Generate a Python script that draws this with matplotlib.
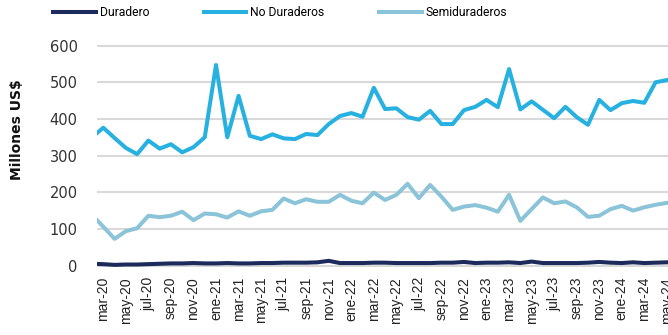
import matplotlib
matplotlib.use("Agg")
import matplotlib.pyplot as plt
import numpy as np

# Meses (feb-20 a may-24), series en millones de US$
meses_abrev = ["ene", "feb", "mar", "abr", "may", "jun", "jul", "ago", "sep", "oct", "nov", "dic"]
meses = [f"{m}-{a % 100:02d}" for a in range(2020, 2025) for m in meses_abrev]
meses = meses[meses.index("feb-20"):meses.index("may-24") + 1]

duradero = [5, 4, 2, 3, 3, 4, 5, 6, 6, 7, 6, 6,
            7, 6, 6, 7, 7, 8, 8, 8, 9, 13, 7, 7,
            7, 8, 8, 7, 7, 7, 7, 8, 8, 10, 7, 8,
            8, 9, 7, 11, 7, 7, 7, 7, 8, 10, 8, 7,
            9, 7, 8, 9]

no_duraderos = [350, 376, 348, 321, 304, 341, 319, 331, 309, 323, 350, 547,
                350, 463, 354, 345, 358, 347, 345, 359, 356, 386, 408, 416,
                406, 485, 427, 429, 405, 398, 422, 386, 386, 424, 433, 452,
                432, 536, 426, 448, 425, 402, 433, 405, 384, 452, 424, 443,
                449, 444, 500, 506]

semiduraderos = [138, 106, 73, 94, 102, 136, 132, 136, 147, 124, 142, 140,
                 131, 148, 136, 148, 152, 183, 170, 181, 174, 174, 193, 177,
                 170, 199, 179, 193, 223, 184, 220, 188, 152, 161, 165, 158,
                 147, 193, 122, 154, 186, 170, 175, 159, 133, 136, 154, 163,
                 150, 159, 166, 171]

colores = {"Duradero": "#1c2a5c", "No Duraderos": "#27b1e1", "Semiduraderos": "#8bc4d9"}

x = np.arange(len(meses)) - 1  # mar-20 en x=0

fig = plt.figure(figsize=(6.68, 3.35), dpi=100)
ax = fig.add_axes([0.1452, 0.194, 0.8548, 0.683])

ax.plot(x, duradero, color=colores["Duradero"], lw=2.9, label="Duradero", zorder=3)
ax.plot(x, no_duraderos, color=colores["No Duraderos"], lw=2.9, label="No Duraderos", zorder=3)
ax.plot(x, semiduraderos, color=colores["Semiduraderos"], lw=2.9, label="Semiduraderos", zorder=3)

ax.set_xlim(-0.56, 50.1)
ax.set_ylim(-12, 612)
ax.set_yticks(range(0, 601, 100))
ax.yaxis.grid(True, color="#d9d9d9", lw=1.5)
ax.set_axisbelow(True)
for s in ax.spines.values():
    s.set_visible(False)

ticks = x[1::2]
ax.set_xticks(ticks)
ax.set_xticklabels(meses[1::2], rotation=90, fontsize=10, color="#222222",
                   family="Liberation Sans")
ax.tick_params(axis="x", length=0, pad=5)
ax.tick_params(axis="y", length=0, pad=14, labelsize=10.5, labelcolor="#333333")

fig.text(0.026, 1 - 130 / 335, "Millones US$", rotation=90, ha="center", va="center",
         fontsize=10, fontweight="bold", color="#111111")

fig.legend(loc="center", bbox_to_anchor=(280 / 668, 1 - 13 / 335), ncol=3, frameon=False,
           handlelength=3.55, handletextpad=0.3, columnspacing=4.5,
           prop={"family": "Roboto", "size": 8.7}, borderpad=0)

fig.savefig("out.png", dpi=100)
